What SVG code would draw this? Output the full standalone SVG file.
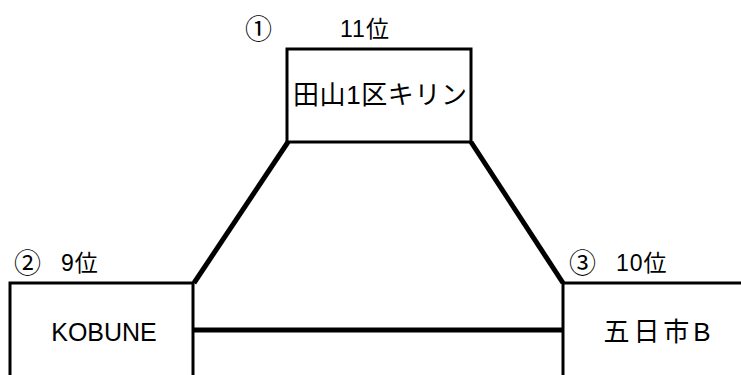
<svg xmlns="http://www.w3.org/2000/svg" width="741" height="375" viewBox="0 0 741 375">
<style>
.box{fill:#fff;stroke:#000;stroke-width:3}
.con{stroke:#000;stroke-width:5;fill:none;stroke-linecap:butt}
text{font-family:"Liberation Sans","Noto Sans CJK JP",sans-serif;fill:#000}
.lbl{font-size:23px}
.circ{font-size:27px}
.name{font-size:25px;text-anchor:middle}
.jp{font-size:26px}
</style>
<rect width="741" height="375" fill="#fff"/>
<g id="connectors">
<line class="con" x1="288" y1="142" x2="194" y2="283"/>
<line class="con" x1="471" y1="142" x2="563" y2="283"/>
<line class="con" x1="193" y1="330" x2="563" y2="330"/>
</g>
<g id="node1">
<rect class="box" x="287" y="49" width="184" height="93"/>
<text class="name jp" x="380" y="104" textLength="174" lengthAdjust="spacing">田山1区キリン</text>
<text class="circ" x="245" y="39">①</text>
<text class="lbl" x="340" y="37" letter-spacing="1">11位</text>
</g>
<g id="node2">
<rect class="box" x="10" y="283" width="183" height="200"/>
<text class="name" x="104" y="341">KOBUNE</text>
<text class="circ" x="14" y="273">②</text>
<text class="lbl" x="61" y="271" letter-spacing="1">9位</text>
</g>
<g id="node3">
<rect class="box" x="563" y="283" width="300" height="200"/>
<text class="name jp" x="657" y="341" textLength="107" lengthAdjust="spacing">五日市B</text>
<text class="circ" x="569" y="273">③</text>
<text class="lbl" x="616" y="271" letter-spacing="1">10位</text>
</g>
</svg>
